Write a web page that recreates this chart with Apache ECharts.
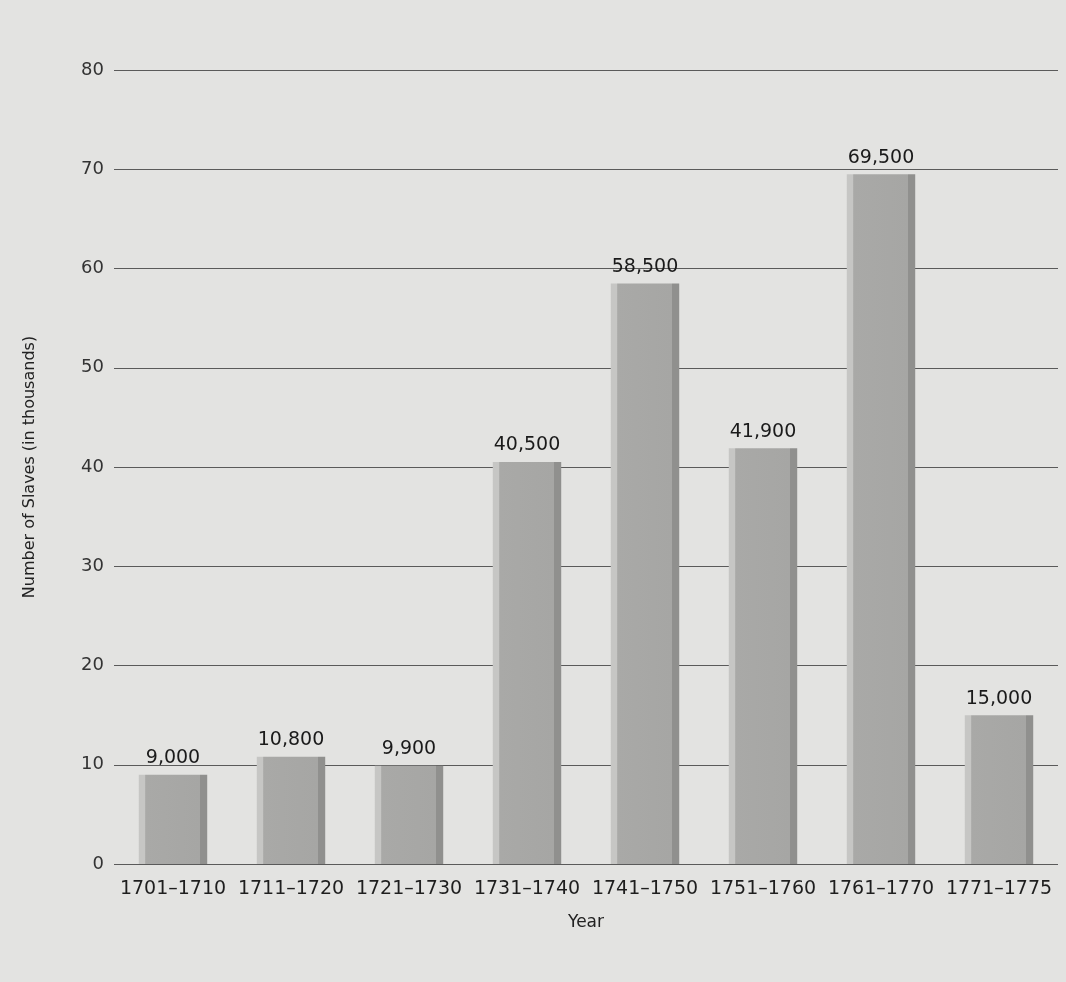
<!DOCTYPE html>
<html>
<head>
<meta charset="utf-8">
<script src="https://cdn.jsdelivr.net/npm/echarts@6/dist/echarts.min.js"></script>
<style>
  html,body{margin:0;padding:0;background:#e3e3e1;}
  #chart{width:1066px;height:982px;}
</style>
</head>
<body>
<div id="chart"></div>
<script>
  // decades and slaves imported (thousands)
  const years = ['1701–1710','1711–1720','1721–1730','1731–1740','1741–1750','1751–1760','1761–1770','1771–1775']
  const slaves = [9.0, 10.8, 9.9, 40.5, 58.5, 41.9, 69.5, 15.0]
  const yTicks = [0, 10, 20, 30, 40, 50, 60, 70, 80]

  let myChart = echarts.init(document.getElementById('chart'))

  // bar shading: light left edge, flat middle, darker right edge
  const barFill = new echarts.graphic.LinearGradient(0, 0, 1, 0, [
    {offset: 0, color: '#c6c6c4'},
    {offset: 0.09, color: '#c6c6c4'},
    {offset: 0.1, color: '#a9a9a7'},
    {offset: 0.89, color: '#a6a6a4'},
    {offset: 0.9, color: '#90908e'},
    {offset: 1, color: '#90908e'}
  ])

  myChart.setOption({
    backgroundColor: '#e3e3e1',
    textStyle: {fontFamily: 'DejaVu Sans, sans-serif'},
    grid: {left: 114, right: 8, top: 70, bottom: 118},
    xAxis: {
      type: 'category',
      data: years,
      name: 'Year',
      nameLocation: 'middle',
      nameGap: 50,
      nameTextStyle: {fontSize: 17, color: '#222'},
      axisLine: {show: false},
      axisTick: {show: false},
      axisLabel: {fontSize: 19, color: '#1e1e1e', margin: 16, interval: 0}
    },
    yAxis: {
      type: 'value',
      min: yTicks[0],
      max: yTicks[yTicks.length - 1],
      interval: 10,
      name: 'Number of Slaves (in thousands)',
      nameLocation: 'middle',
      nameGap: 76,
      nameTextStyle: {fontSize: 16, color: '#222'},
      axisLabel: {fontSize: 18, color: '#333', margin: 10},
      splitLine: {lineStyle: {color: '#5a5a5a', width: 1}}
    },
    series: [{
      type: 'bar',
      data: slaves,
      barWidth: '58%',
      itemStyle: {color: barFill},
      label: {
        show: true,
        position: 'top',
        distance: 7,
        fontSize: 19,
        color: '#1a1a1a',
        formatter: p => (p.value * 1000).toLocaleString('en-US')
      }
    }]
  })
</script>
</body>
</html>
